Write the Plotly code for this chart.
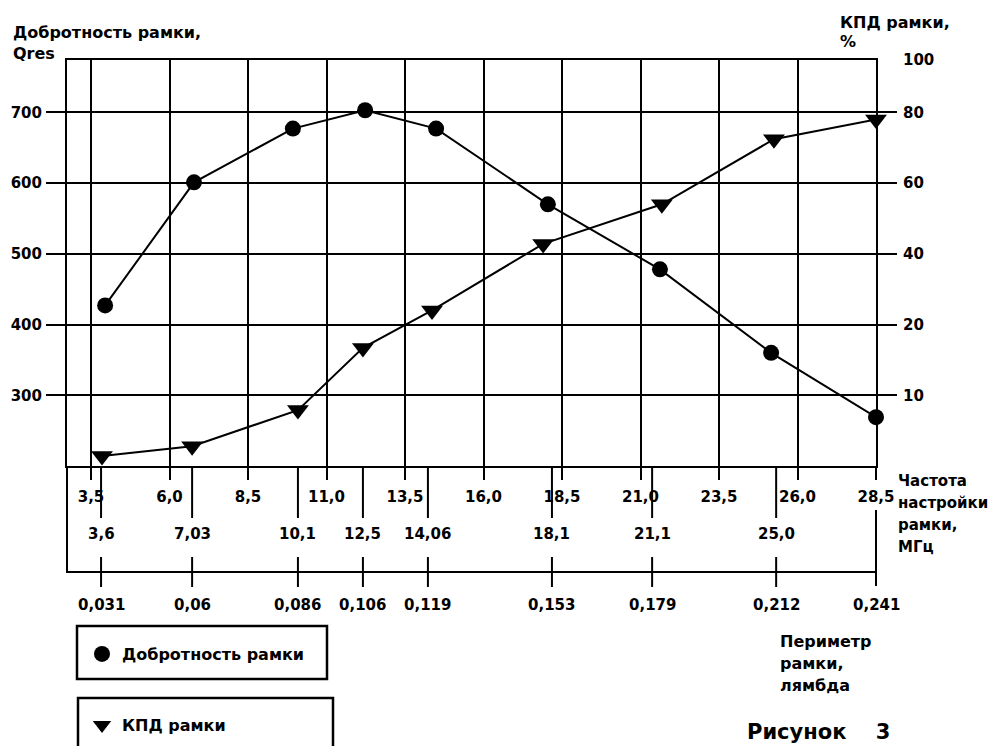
import numpy as np
import plotly.graph_objects as go

# ---------------- data ----------------
grid_freq = [3.5, 6.0, 8.5, 11.0, 13.5, 16.0, 18.5, 21.0, 23.5, 26.0, 28.5]
grid_freq_labels = ["3,5", "6,0", "8,5", "11,0", "13,5", "16,0", "18,5",
                    "21,0", "23,5", "26,0", "28,5"]

point_freq_labels = ["3,6", "7,03", "10,1", "12,5", "14,06", "18,1", "21,1", "25,0", "28,5"]
perimeter_labels = ["0,031", "0,06", "0,086", "0,106", "0,119", "0,153", "0,179", "0,212", "0,241"]
# where each measurement sits on the drawn frequency grid
point_pos = [3.82, 6.72, 10.09, 12.16, 14.23, 18.18, 21.37, 25.32, 28.5]

q_pos = [3.95, 6.78, 9.93, 12.23, 14.49, 18.05, 21.62, 25.16, 28.5]
q_values = [427, 601, 677, 703, 677, 570, 478, 360, 269]

kpd_pos = [3.85, 6.72, 10.09, 12.16, 14.36, 17.90, 21.68, 25.25, 28.5]
kpd_values = [1.4, 2.8, 7.9, 16.7, 24.0, 42.8, 54.0, 72.4, 78.0]

q_ticks = [300, 400, 500, 600, 700]
q_range = [200, 774]
kpd_ticks = [10, 20, 40, 60, 80, 100]
kpd_tick_labels = ["10", "20", "40", "60", "80", "100"]
# the right-hand (KPD) scale is drawn non-uniformly: each KPD tick sits on a Q grid line
kpd_scale_pct = [0, 10, 20, 40, 60, 80, 100]
kpd_scale_q = [200, 300, 400, 500, 600, 700, 774]

# ---------------- layout helpers (page pixel coordinates) ----------------
PAGE_OFF = 8                      # default body margin of the page
W, H = 999 - PAGE_OFF, 746 - PAGE_OFF
PL, PR, PT, PB = 67, 876, 60, 466  # plot area edges on the page
MARGIN = dict(l=PL - PAGE_OFF, r=W - (PR - PAGE_OFF), t=PT - PAGE_OFF,
              b=H - (PB - PAGE_OFF), autoexpand=False)


def xp(px):
    return (px - PL) / (PR - PL)


def yp(py):
    return (PB - py) / (PB - PT)


FONT = "DejaVu Sans"
BLACK = "#000000"


def kpd_to_axis(v):
    return np.interp(v, kpd_scale_pct, kpd_scale_q)


fig = go.Figure()

# lines
fig.add_trace(go.Scatter(x=q_pos, y=q_values, mode="lines",
                         line=dict(color=BLACK, width=2), showlegend=False,
                         hoverinfo="skip"))
fig.add_trace(go.Scatter(x=kpd_pos, y=kpd_to_axis(kpd_values), mode="lines",
                         line=dict(color=BLACK, width=2), showlegend=False,
                         yaxis="y2", hoverinfo="skip"))
# markers (also legend entries)
fig.add_trace(go.Scatter(x=q_pos, y=q_values, mode="markers", cliponaxis=False,
                         marker=dict(symbol="circle", size=16, color=BLACK),
                         name="Добротность рамки", legend="legend"))
fig.add_trace(go.Scatter(x=kpd_pos, y=kpd_to_axis(kpd_values), mode="markers",
                         cliponaxis=False,
                         marker=dict(symbol="triangle-down", size=19, color=BLACK),
                         name="КПД рамки", yaxis="y2", legend="legend2",
                         customdata=kpd_values,
                         hovertemplate="%{customdata}%<extra></extra>"))

tickfont = dict(family=FONT, size=15, color=BLACK, weight="bold")
legfont = dict(family=FONT, size=16, color=BLACK, weight="bold")

fig.update_layout(
    width=W, height=H,
    margin=MARGIN,
    paper_bgcolor="white", plot_bgcolor="white",
    font=dict(family=FONT, size=15, color=BLACK, weight="bold"),
    xaxis=dict(
        range=[3.5 - 24 / 31.4, 28.5],
        tickmode="array", tickvals=grid_freq, ticktext=grid_freq_labels,
        showgrid=True, gridcolor=BLACK, gridwidth=2,
        ticks="outside", ticklen=12, tickwidth=2, tickcolor=BLACK,
        showline=True, linecolor=BLACK, linewidth=2, mirror=True,
        zeroline=False, tickfont=tickfont, ticklabelstandoff=4,
    ),
    yaxis=dict(
        range=q_range, tickmode="array", tickvals=q_ticks,
        ticktext=[str(v) for v in q_ticks],
        showgrid=True, gridcolor=BLACK, gridwidth=2,
        ticks="outside", ticklen=19, tickwidth=2, tickcolor=BLACK,
        showline=True, linecolor=BLACK, linewidth=2, mirror="ticks",
        zeroline=False, tickfont=tickfont, ticklabelstandoff=1,
    ),
    yaxis2=dict(
        range=q_range, overlaying="y", side="right",
        tickmode="array", tickvals=list(kpd_to_axis(kpd_ticks)), ticktext=kpd_tick_labels,
        showgrid=False, ticks="", showline=False, zeroline=False,
        tickfont=tickfont, ticklabelstandoff=26,
    ),
    legend=dict(x=xp(82), y=yp(654), xanchor="left", yanchor="middle",
                bgcolor="rgba(0,0,0,0)", borderwidth=0, font=legfont),
    legend2=dict(x=xp(82), y=yp(725), xanchor="left", yanchor="middle",
                 bgcolor="rgba(0,0,0,0)", borderwidth=0, font=legfont),
    showlegend=True,
)

shapes = []
line = dict(color=BLACK, width=2)
# lower box frame
shapes.append(dict(type="line", xref="paper", yref="paper", x0=0, x1=0, y0=yp(466), y1=yp(573), line=line))
shapes.append(dict(type="line", xref="paper", yref="paper", x0=0, x1=1, y0=yp(572), y1=yp(572), line=line))
shapes.append(dict(type="line", xref="paper", yref="paper", x0=1, x1=1, y0=yp(466), y1=yp(471), line=line))
shapes.append(dict(type="line", xref="paper", yref="paper", x0=1, x1=1, y0=yp(510), y1=yp(586), line=line))
# measurement ticks
for i, pos in enumerate(point_pos[:-1]):
    shapes.append(dict(type="line", xref="x", yref="paper", x0=pos, x1=pos,
                       y0=yp(466), y1=yp(518), line=line))
    shapes.append(dict(type="line", xref="x", yref="paper", x0=pos, x1=pos,
                       y0=yp(557), y1=yp(587), line=line))
# legend boxes
shapes.append(dict(type="rect", xref="paper", yref="paper", x0=xp(77), x1=xp(327),
                   y0=yp(679), y1=yp(626), line=dict(color=BLACK, width=2.5)))
shapes.append(dict(type="rect", xref="paper", yref="paper", x0=xp(78), x1=xp(333),
                   y0=yp(760), y1=yp(698), line=dict(color=BLACK, width=2.5)))
fig.update_layout(shapes=shapes)

ann = []
afont = dict(family=FONT, size=15, color=BLACK, weight="bold")
for i, pos in enumerate(point_pos):
    if i < len(point_pos) - 1:
        ann.append(dict(x=pos, y=yp(534), xref="x", yref="paper", text=point_freq_labels[i],
                        showarrow=False, xanchor="center", yanchor="middle", font=afont))
    ann.append(dict(x=pos, y=yp(605), xref="x", yref="paper", text=perimeter_labels[i],
                    showarrow=False, xanchor="center", yanchor="middle", font=afont))


def text_at(px, py, text, size=16, anchor="left"):
    ann.append(dict(x=xp(px), y=yp(py), xref="paper", yref="paper", text=text,
                    showarrow=False, xanchor=anchor, yanchor="middle",
                    font=dict(family=FONT, size=size, color=BLACK, weight="bold")))


text_at(11, 32, "Добротность рамки,")
text_at(11, 54, "Qres")
text_at(838, 22, "КПД рамки,")
text_at(838, 42, "%")
for k, t in enumerate(["Частота", "настройки", "рамки,", "МГц"]):
    text_at(896, 481 + 22 * k, t, size=15)
for k, t in enumerate(["Периметр", "рамки,", "лямбда"]):
    text_at(778, 641 + 22 * k, t)
text_at(745, 732, "Рисунок&nbsp;&nbsp;&nbsp;&nbsp;3", size=21)
fig.update_layout(annotations=ann)

fig.write_html("out.html")
